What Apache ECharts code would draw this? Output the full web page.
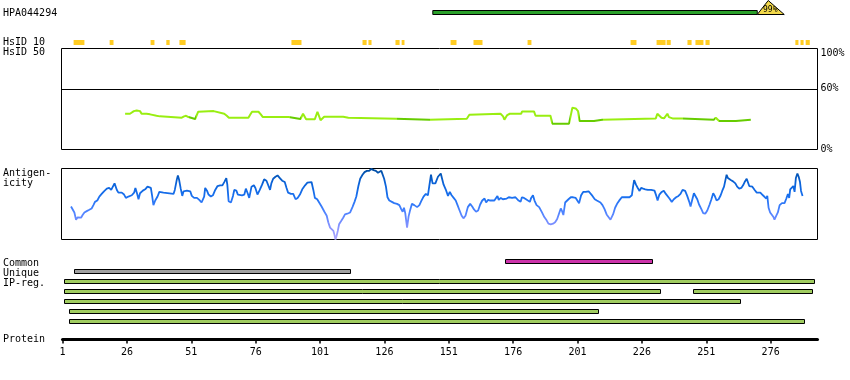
<!DOCTYPE html>
<html><head><meta charset="utf-8">
<script src="https://cdn.jsdelivr.net/npm/echarts@6.0.0/dist/echarts.min.js"></script>
<style>html,body{margin:0;padding:0;background:#fff}#c{width:850px;height:380px}</style>
</head><body><div id="c"></div>
<script>
// ---------------- data ----------------
const antibodyName = 'HPA044294';
const antigenRegion = [144.8, 270.8];
const antigenIdentity = '99%';
const proteinLength = 294.2;
const proteinTickStart = 1;
const proteinTickStep = 25;

const hsid10Marks = [[5.3,9.5],[19.3,20.8],[35.2,36.7],[41.3,42.6],[46.4,48.8],[89.9,93.8],[117.5,119.1],[119.8,121.0],
  [130.3,131.9],[132.7,133.8],[151.7,154.0],[160.6,164.1],[181.6,183.1],[221.6,223.9],[231.7,235.2],[235.6,237.2],
  [243.7,245.3],[246.8,249.9],[250.7,252.3],[285.6,286.8],[287.6,288.8],[289.6,291.2]];

const identityTicks = [0, 60, 100];
const identityResidue = [25.3,27.2,27.8,28.7,29.8,30.4,31.1,31.7,33.6,35.0,35.7,37.5,38.8,39.5,47.3,48.2,49.0,49.9,50.6,52.5,53.2,53.7,54.2,59.7,60.3,63.8,64.8,65.6,73.2,73.8,74.6,77.1,78.0,78.8,88.8,89.5,93.4,
  94.4,95.6,99.0,100.0,101.2,102.6,110.0,112.0,130.5,131.0,143.5,144.0,158.0,159.0,171.1,172.1,172.6,173.0,173.7,174.7,179.1,179.5,184.1,184.7,190.5,191.2,197.7,198.3,199.0,200.3,201.2,201.8,207.4,208.0,210.6,211.3,231.4,232.0,232.7,233.6,234.6,235.9,236.5,237.9,241.7,242.1,254.0,254.7,255.3,256.0,262.5,263.1,268.3];
const identityPct = [35.4,35.4,36.7,38.0,38.7,40.0,38.0,35.4,35.4,34.8,33.4,33.4,32.8,31.5,31.5,32.8,33.4,32.1,30.2,30.2,32.1,37.4,38.0,38.0,36.1,35.4,33.4,31.5,31.5,34.1,37.4,37.4,34.8,32.1,32.1,30.2,30.2,
  35.4,30.0,30.0,37.4,29.0,32.4,32.4,31.5,30.5,29.5,29.5,30.5,30.5,34.4,35.4,32.8,29.5,30.8,34.1,35.4,35.4,37.7,37.7,33.4,33.4,25.6,25.6,32.8,41.3,40.7,38.0,28.2,28.2,29.5,29.5,30.8,30.8,35.4,36.1,31.5,30.8,35.4,32.1,30.8,30.8,29.5,29.5,31.5,30.8,28.2,28.2,29.5,29.5];
const identityDarkRanges = [[50.3,52.8],[89.3,93.6],[130.8,143.8],[191.0,197.9],[201.6,210.8],[241.9,254.2],[255.8,268.5]];

const antigenResidue = [4.3,4.95,5.6,6.25,6.9,7.5,8.2,8.8,9.5,10.4,11.4,12.3,13.0,13.6,14.5,15.3,16.2,17.1,18.2,19.1,19.9,20.5,21.2,21.5,22.1,22.7,24.0,24.9,25.6,26.6,27.9,28.8,29.3,30.0,30.5,31.1,32.2,33.1,34.0,34.6,35.3,35.8,36.3,37.0,37.9,38.6,39.3,40.2,40.9,44.1,44.6,45.4,45.8,46.3,46.9,47.5,48.0,49.3,50.6,51.2,52.1,53.2,54.1,55.0,55.5,56.0,56.4,57.1,57.7,58.6,59.4,60.3,61.2,62.2,63.1,63.8,64.6,65.0,65.5,66.4,67.2,67.7,68.5,69.1,69.8,70.7,71.6,72.2,72.9,73.5,
  74.4,75.3,75.9,76.7,77.6,78.5,79.3,80.2,80.8,81.6,82.1,82.8,83.7,84.5,85.4,86.3,87.3,88.0,88.6,89.7,90.6,91.5,92.3,93.2,94.1,95.2,96.1,96.8,97.7,98.4,99.0,99.9,100.6,101.6,102.7,103.6,104.2,104.9,105.5,106.2,106.6,107.0,107.4,107.9,108.4,109.2,110.0,110.7,111.6,112.7,113.6,114.4,115.1,115.9,116.6,117.5,118.3,119.2,120.1,120.9,121.8,122.7,123.5,124.1,124.8,125.4,125.9,126.6,127.2,127.9,128.9,129.8,130.9,131.8,132.4,133.1,133.6,134.1,134.8,135.4,135.9,136.7,137.6,138.7,139.6,140.3,141.2,142.1,142.9,143.4,144.1,144.7,145.8,146.2,146.8,147.5,147.9,
  148.4,149.0,149.8,150.7,151.4,152.1,152.9,153.7,154.4,155.2,156.0,156.7,157.5,158.4,159.3,160.1,160.8,161.6,162.4,163.2,164.0,164.9,165.5,166.3,167.1,167.8,168.7,169.4,169.9,170.4,171.2,172.0,172.7,173.5,174.3,174.8,175.6,176.2,176.9,177.5,178.1,178.9,179.4,180.2,181.0,181.7,182.5,183.0,183.7,184.3,185.1,186.1,187.2,188.1,189.0,189.7,190.6,191.5,192.3,193.1,193.8,194.5,195.0,195.5,196.2,196.8,197.5,198.4,199.3,200.3,201.0,201.6,202.4,203.2,204.2,205.3,205.9,206.8,207.7,208.5,209.2,209.9,210.7,211.5,212.3,213.0,213.8,214.3,214.8,215.6,216.5,217.4,218.2,218.8,219.5,
  221.2,222.1,222.6,223.0,223.7,224.4,225.1,225.7,226.5,227.3,228.3,229.6,230.9,231.6,232.1,232.8,233.7,234.5,235.3,236.0,236.7,237.6,238.4,239.3,240.2,241.0,241.8,242.3,242.8,243.6,244.4,244.9,245.6,246.2,246.9,247.5,248.2,249.1,249.8,250.6,251.4,252.3,253.0,253.7,254.3,255.0,255.8,256.6,257.2,257.9,258.5,258.9,259.4,260.5,261.4,262.3,263.0,263.8,264.6,265.3,265.9,266.7,267.2,267.7,268.2,268.9,269.8,270.6,271.3,272.0,272.3,273.0,273.6,274.3,274.7,275.2,275.8,276.5,277.1,277.5,278.2,278.8,279.5,280.4,281.4,282.1,282.7,283.2,283.6,284.3,284.8,285.3,285.8,286.4,286.9,287.4,287.8,288.4];
const antigenScore = [46.5,43.7,38.1,27.9,31.2,33.5,30.7,34.4,38.1,40,41.9,43.7,48.4,53,54.9,60.5,64.2,67.9,71.6,72.6,69.8,67.9,79.1,81.9,69.8,66,66,63.3,58.6,60.5,62.3,66,72.6,64.2,56.7,65.1,68.8,70.7,74.4,76.3,72.6,61.4,48.4,54.9,60.5,67,69.8,66,64.2,64.2,69.8,84.7,90.2,83.7,71.6,61.4,67.9,68.8,67.9,61.4,58.6,58.6,55.8,52.1,51.2,60.5,72.6,68.8,63.3,60.5,62.3,69.8,75.3,76.3,76.3,80.9,86.5,77.2,54,52.1,61.4,69.8,68.8,63.3,60.5,62.3,63.3,71.6,65.1,58.6,
  74.4,76.3,72.6,63.3,69.8,77.2,84.7,82.8,80,69.8,79.1,85.6,88.4,90.2,86.5,82.8,80.9,72.6,66,64.2,64.2,56.7,58.6,63.3,70.7,76.3,80,80.9,80.9,69.8,58.6,56.7,54.9,46.5,39.1,33.5,24.2,16.7,14.9,12.1,6.5,0,4.7,12.1,21.4,26,30.7,35.3,36.3,38.1,45.6,53,60.5,75.3,85.6,91.2,94.9,96.7,96.7,99.5,97.7,96.7,94,91.2,96.7,99.5,85.6,74.4,59.5,54.9,53,51.2,50.2,48.4,43.7,39.1,44.7,37.2,16.7,32.6,40,50.2,48.4,45.6,48.4,54,60.5,64.2,62.3,74.4,91.2,79.1,79.1,81.9,88.4,91.2,93,
  85.6,77.2,70.7,61.4,67,62.3,58.6,54.9,48.4,40.9,33.5,29.8,33.5,45.6,50.2,46.5,42.3,39.1,40.9,49.3,54.9,57.7,52.1,55.8,54.9,52.1,54.9,56.7,61.4,55.8,58.6,56.7,57.7,57.7,59.5,62.3,58.6,55.8,59.5,56.7,54.9,53,59.5,58.6,56.7,54.9,53,58.6,62.3,54.9,48.4,45.6,38.1,31.6,27,22.3,21.4,22.3,24.2,28.8,36.3,43.7,40,34.4,52.1,54.9,56.7,59.5,59.5,58.6,60.5,51.2,62.3,67,67,67.9,65.1,61.4,56.7,54.9,57.7,52.1,48.4,42.8,35.3,33.5,27.9,29.8,35.3,44.7,51.2,55.8,59.5,62.3,59.5,
  59.5,62.3,75.3,83.7,77.2,72.6,68.4,72.6,71.6,70.7,69.8,69.8,68.8,61.4,54.9,63.3,67,68.8,64.2,63.3,57.7,53,56.7,59.5,61.4,64.2,69.8,70.7,68.4,61.4,53,46.5,56.7,65.1,67,56.7,49.3,42.8,37.2,36.3,40.9,49.3,56.7,65.1,61.4,54.9,56.7,62.3,68.4,74.4,84.7,91.2,86.5,83.7,81.9,79.1,74.4,71.6,72.6,76.3,80.9,85.6,88.4,75.3,77.2,74.4,69.8,66,68.8,66,67,62.3,59.5,57.7,61.4,44.7,38.1,35.3,31.6,27.9,33.5,38.1,48.4,51.2,51.2,57.7,64.2,58.6,70.7,68.8,75.3,67,86.5,93,88.4,80.9,68.4,61.4];

const commonRegions = [[172.8, 230.0]];
const uniqueRegions = [[5.4, 112.7]];
const ipRegions = [[1.5, 292.9], [1.5, 233.0], [245.8, 292.1], [1.5, 264.2], [3.4, 209.0], [3.4, 289.0]];
const ipRows = [0, 1, 1, 2, 3, 4];

const sideLabels = ['HPA044294', 'HsID 10', 'HsID 50', 'Antigen-', 'icity', 'Common', 'Unique', 'IP-reg.', 'Protein'];

// ---------------- layout / style ----------------
const FONT = 'DejaVu Sans Mono';
const X0 = 61.5, XW = 756, XMIN = 0.6, XMAX = proteinLength;
const SCALE = XW / (XMAX - XMIN);
const sideLabelY = [13, 42.7, 52.5, 173, 183, 263, 273, 283.5, 339];
const zip = (a, b) => a.map((v, i) => [v, b[i]]);

const trackData = [];
commonRegions.forEach(r => trackData.push([r[0], r[1], 0, 0]));
uniqueRegions.forEach(r => trackData.push([r[0], r[1], 1, 1]));
ipRegions.forEach((r, i) => trackData.push([r[0], r[1], 2 + ipRows[i], 2]));
const trackColors = ['#CC33AA', '#A0A0A0', '#A0CC60'];

const hiddenX = i => ({gridIndex: i, type: 'value', min: XMIN, max: XMAX, show: false});
const hiddenY = (i, min, max, inv) => ({gridIndex: i, type: 'value', min: min, max: max, show: false, inverse: !!inv});

const chart = echarts.init(document.getElementById('c'), null, {renderer: 'canvas'});
chart.setOption({
  animation: false,
  backgroundColor: '#fff',
  tooltip: {show: false},
  axisPointer: {show: false},
  textStyle: {fontFamily: FONT},
  grid: [
    {left: X0, top: 0, width: XW, height: 16, outerBoundsMode: 'none'},
    {left: X0, top: 40, width: XW, height: 5, outerBoundsMode: 'none'},
    {left: X0, top: 48.5, width: XW, height: 101, show: true, borderColor: '#000', borderWidth: 1, backgroundColor: 'transparent', outerBoundsMode: 'none'},
    {left: X0, top: 168.5, width: XW, height: 71, show: true, borderColor: '#000', borderWidth: 1, backgroundColor: 'transparent', outerBoundsMode: 'none'},
    {left: X0, top: 257, width: XW, height: 70, outerBoundsMode: 'none'},
    {left: X0 + (proteinTickStart - XMIN) * SCALE, top: 338.5, width: (XMAX - proteinTickStart) * SCALE, height: 1, outerBoundsMode: 'none'}
  ],
  xAxis: [hiddenX(0), hiddenX(1), hiddenX(2), hiddenX(3), hiddenX(4),
    {gridIndex: 5, type: 'value', min: proteinTickStart, max: XMAX, interval: proteinTickStep, position: 'bottom',
     axisLine: {show: true, lineStyle: {color: '#000', width: 3}},
     axisTick: {show: true, length: 4, lineStyle: {color: '#000', width: 1.5}},
     axisLabel: {show: true, margin: 8, fontFamily: FONT, fontSize: 10, color: '#000', showMaxLabel: false, showMinLabel: true},
     splitLine: {show: false}}
  ],
  yAxis: [hiddenY(0, 0, 1), hiddenY(1, 0, 1),
    {gridIndex: 2, type: 'value', min: 0, max: 100, interval: 20, position: 'right',
     axisLine: {show: false}, axisTick: {show: false}, splitLine: {show: false},
     axisLabel: {show: true, margin: 3, fontFamily: FONT, fontSize: 10, color: '#000',
       formatter: v => identityTicks.includes(v) ? (v === 100 ? '{t|' + v + '%}' : v + '%') : '',
       rich: {t: {padding: [10, 0, 0, 0], fontFamily: FONT, fontSize: 10, color: '#000'}}}},
    hiddenY(3, 0, 100), hiddenY(4, 0, 7, true), hiddenY(5, 0, 1)
  ],
  visualMap: [
    {type: 'continuous', show: false, seriesIndex: 3, dimension: 1, min: 0, max: 100,
     inRange: {color: ['#B0A8FF', '#8090FF', '#4A82FF', '#1A70F0', '#0A62D8', '#004C9E']}},
    {type: 'piecewise', show: false, seriesIndex: 2, dimension: 0,
     pieces: identityDarkRanges.map(r => ({gte: r[0], lte: r[1], color: '#66CC00'})),
     outOfRange: {color: '#99EE11'}}
  ],
  series: [
    {type: 'custom', xAxisIndex: 0, yAxisIndex: 0, silent: true, data: [antigenRegion],
     renderItem: (params, api) => {
       const s = api.coord([api.value(0), 0])[0];
       const e = api.coord([api.value(1), 0])[0];
       return {type: 'group', children: [
         {type: 'rect', shape: {x: s, y: 10.5, width: e - s, height: 4}, style: {fill: '#2AA02A', stroke: '#000', lineWidth: 1}},
         {type: 'polygon', shape: {points: [[e, 14.5], [e + 11, 0.5], [e + 27, 14.5]]}, style: {fill: '#F2D84A', stroke: '#000', lineWidth: 1}},
         {type: 'text', style: {text: antigenIdentity, x: e + 13, y: 9.5, align: 'center', verticalAlign: 'middle', font: '8px "' + FONT + '"', fill: '#000'}}
       ]};
     }},
    {type: 'custom', xAxisIndex: 1, yAxisIndex: 1, silent: true, data: hsid10Marks,
     renderItem: (params, api) => {
       const cs = params.coordSys;
       const s = api.coord([api.value(0), 0])[0];
       const e = api.coord([api.value(1), 0])[0];
       return {type: 'rect', shape: {x: s, y: cs.y, width: e - s, height: cs.height}, style: {fill: '#FFCC22'}};
     }},
    {type: 'line', xAxisIndex: 2, yAxisIndex: 2, data: zip(identityResidue, identityPct), symbol: 'none', silent: true,
     lineStyle: {width: 2},
     markLine: {silent: true, symbol: ['none', 'none'], label: {show: false},
       lineStyle: {color: '#000', width: 1, type: 'solid'}, data: [{yAxis: 60}]}},
    {type: 'line', xAxisIndex: 3, yAxisIndex: 3, data: zip(antigenResidue, antigenScore), symbol: 'none', silent: true,
     lineStyle: {width: 1.8}},
    {type: 'custom', xAxisIndex: 4, yAxisIndex: 4, silent: true, data: trackData,
     renderItem: (params, api) => {
       const a = api.coord([api.value(0), api.value(2) + 0.5]);
       const b = api.coord([api.value(1), api.value(2) + 0.5]);
       return {type: 'rect', shape: {x: Math.round(a[0]) + 0.5, y: Math.round(a[1]) - 2.5, width: Math.round(b[0] - a[0]), height: 4},
         style: {fill: trackColors[api.value(3)], stroke: '#000', lineWidth: 1}};
     }}
  ],
  graphic: sideLabels.map((t, i) => ({type: 'text', x: 3, y: sideLabelY[i], silent: true,
    style: {text: t, font: '10px "' + FONT + '"', fill: '#000', verticalAlign: 'middle'}}))
});
</script>
</body></html>
